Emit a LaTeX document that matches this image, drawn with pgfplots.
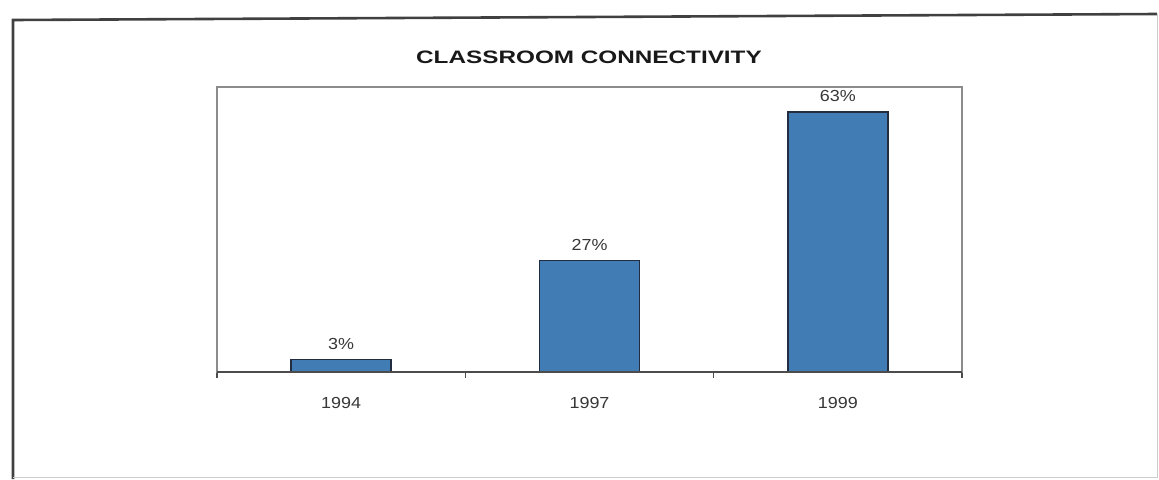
\documentclass[border=0pt]{standalone}
\usepackage{fontspec}
\setmainfont{Liberation Sans}
\newfontfamily\titlefont[FakeStretch=1.35]{Liberation Sans Bold}
\newfontfamily\lblfont[FakeStretch=1.12]{Liberation Sans}
\usepackage{pgfplots}
\pgfplotsset{compat=1.18}
\definecolor{barblue}{RGB}{66,124,180}
\definecolor{baredge}{RGB}{35,45,65}
\definecolor{boxgray}{RGB}{140,140,140}
\definecolor{txtgray}{RGB}{55,55,55}
\begin{document}
\begin{tikzpicture}
\path[use as bounding box] (0,0) rectangle (579.5pt,239.5pt);
% outer frame
\draw[line width=1.3pt, black!75] (6.5pt,0pt) -- (6.5pt,229.5pt) -- (578.5pt,232.5pt);
\draw[line width=0.5pt, black!20] (578.5pt,232.5pt) -- (578.5pt,1pt) -- (6.5pt,1pt);
\node[font=\titlefont\fontsize{9}{10}\selectfont, text=black!90] at (294.5pt,211pt) {CLASSROOM CONNECTIVITY};
\begin{axis}[
  at={(108.5pt,53.5pt)}, anchor=south west,
  scale only axis, width=372.5pt, height=142.5pt,
  xmin=-0.5, xmax=2.5, ymin=0, ymax=69,
  axis line style={boxgray, line width=0.6pt},
  ytick=\empty,
  xtick={-0.5,0.5,1.5,2.5}, x tick label as interval,
  xticklabels={1994,1997,1999},
  xtick pos=bottom, xtick align=outside, major tick length=3pt,
  x tick style={black!70, line width=0.6pt},
  xticklabel style={font=\lblfont\fontsize{8}{9}\selectfont, text=txtgray, yshift=-6pt},
  /pgf/number format/assume math mode=true,
  ybar, bar width=50pt,
  nodes near coords={\pgfmathprintnumber{\pgfplotspointmeta}\%},
  nodes near coords style={font=\lblfont\fontsize{8}{9}\selectfont, text=txtgray, yshift=1.5pt},
  clip=false,
]
\addplot[fill=barblue, draw=baredge, line width=0.7pt] coordinates {(0,3) (1,27) (2,63)};
\draw[black!70, line width=0.8pt] (rel axis cs:0,0) -- (rel axis cs:1,0);
\end{axis}
\end{tikzpicture}
\end{document}
